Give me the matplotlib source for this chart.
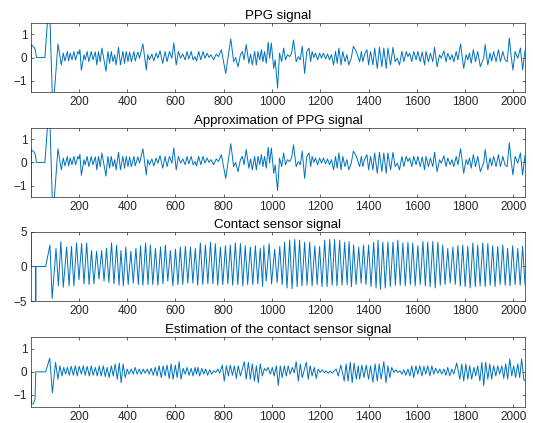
import matplotlib
matplotlib.use('Agg')
from matplotlib import pyplot as plt

# PPG signal, turning points (sample index, amplitude)
ppg_x = [1, 2, 14, 19, 24, 59, 77, 92, 113, 127,
         135, 142, 152, 157, 164, 171, 179, 186, 196, 200,
         204, 210, 221, 226, 234, 241, 251, 258, 268, 274,
         281, 288, 295, 312, 320, 327, 334, 341, 348, 354,
         364, 372, 382, 389, 396, 403, 410, 417, 428, 433,
         444, 451, 465, 479, 485, 492, 502, 510, 520, 527,
         536, 547, 557, 565, 575, 585, 593, 603, 612, 621,
         630, 640, 648, 655, 665, 673, 681, 687, 696, 705,
         714, 722, 731, 739, 747, 758, 769, 778, 790, 808,
         829, 841, 849, 859, 869, 877, 884, 893, 904, 911,
         918, 928, 935, 942, 949, 956, 962, 969, 976, 984,
         990, 997, 1007, 1013, 1023, 1031, 1040, 1048, 1056, 1064,
         1073, 1081, 1089, 1100, 1109, 1117, 1125, 1135, 1144, 1153,
         1160, 1166, 1173, 1180, 1189, 1197, 1205, 1213, 1222, 1230,
         1238, 1246, 1255, 1263, 1270, 1277, 1286, 1293, 1302, 1310,
         1318, 1328, 1337, 1349, 1363, 1370, 1376, 1383, 1393, 1400,
         1408, 1418, 1425, 1436, 1445, 1455, 1463, 1473, 1480, 1491,
         1501, 1510, 1519, 1528, 1538, 1546, 1556, 1563, 1570, 1579,
         1587, 1597, 1604, 1614, 1622, 1632, 1638, 1648, 1656, 1666,
         1673, 1684, 1694, 1701, 1712, 1721, 1728, 1738, 1745, 1753,
         1763, 1770, 1781, 1794, 1804, 1811, 1818, 1825, 1834, 1843,
         1852, 1863, 1877, 1883, 1894, 1903, 1910, 1918, 1928, 1938,
         1946, 1956, 1965, 1974, 1983, 1990, 1998, 2007, 2018, 2029,
         2038, 2048]
ppg_y = [-3.5, 0.56, 0.44, 0.34, 0.0, 0.0, 2.6, -2.4, 0.59, -0.32,
         0.19, -0.15, 0.26, -0.15, 0.19, -0.10, 0.26, -0.10, 0.26, 0.15,
         0.35, -0.55, 0.12, -0.10, 0.26, -0.18, 0.26, -0.10, 0.24, -0.32,
         0.26, -0.18, 0.41, -0.59, 0.26, -0.25, 0.26, -0.18, 0.12, -0.32,
         0.44, -0.32, 0.26, -0.25, 0.26, -0.18, 0.24, -0.18, 0.26, -0.15,
         0.24, -0.03, 0.59, -0.54, 0.12, -0.10, 0.15, -0.15, 0.19, -0.03,
         0.29, -0.25, 0.26, -0.18, 0.26, -0.03, 0.63, -0.32, 0.26, -0.03,
         0.15, -0.10, 0.26, -0.06, 0.26, -0.10, 0.04, -0.15, 0.26, -0.10,
         0.26, -0.03, 0.19, 0.0, 0.12, -0.10, 0.15, 0.04, 0.34, -0.69,
         0.81, -0.18, 0.0, -0.40, 0.12, 0.26, -0.10, 0.56, -0.25, 0.15,
         -0.32, 0.26, -0.32, 0.26, -0.10, 0.34, -0.18, 0.26, -0.25, 0.66,
         -0.03, 0.63, -0.47, -0.10, -1.32, 0.19, -0.18, 0.41, -0.10, 0.12,
         0.04, 0.19, 0.76, -0.18, 0.04, -0.10, 0.49, -0.69, 0.26, 0.41,
         -0.18, 0.26, 0.0, 0.19, -0.10, 0.19, -0.03, 0.19, -0.06, 0.15,
         -0.10, 0.12, -0.32, 0.26, -0.25, 0.41, -0.32, 0.26, -0.18, 0.12,
         -0.32, -0.03, 0.49, 0.26, -0.18, 0.26, -0.18, 0.12, 0.34, -0.32,
         0.26, -0.32, 0.41, -0.47, 0.44, -0.40, 0.41, -0.47, 0.41, -0.32,
         0.44, -0.18, -0.03, -0.32, 0.26, -0.18, 0.26, 0.04, 0.19, -0.18,
         0.26, -0.10, 0.26, -0.18, 0.24, -0.32, 0.26, -0.18, 0.19, -0.18,
         0.44, -0.40, 0.12, -0.03, 0.29, -0.18, 0.19, -0.10, 0.12, -0.18,
         0.26, -0.10, 0.59, -0.47, 0.12, -0.10, 0.19, -0.25, 0.34, -0.18,
         0.26, -0.40, 0.0, 0.56, -0.32, 0.19, -0.15, 0.26, -0.18, 0.34,
         -0.18, 0.26, -0.10, -0.18, 0.85, 0.12, -0.54, 0.26, -0.03, 0.41,
         -0.54, 0.30]

# the approximation reads the same as the PPG signal at this scale
approx_x = list(ppg_x)
approx_y = list(ppg_y)
approx_y[ppg_x.index(1023)] = -1.22

# contact sensor signal: start, then peaks and troughs
contact_start_x = [1, 2, 20, 21, 22, 62]
contact_start_y = [6.0, 0.0, 0.0, -6.0, 0.0, 0.0]
contact_peak_x = [80, 105, 125, 149, 169, 190, 211, 232, 252, 273,
                  294, 314, 335, 356, 374, 394, 415, 436, 455, 476,
                  496, 517, 538, 558, 579, 600, 620, 641, 662, 682,
                  703, 724, 745, 765, 786, 807, 827, 848, 869, 889,
                  910, 931, 951,
                  966, 988, 1011, 1032, 1052, 1073, 1094, 1114, 1135, 1156,
                  1177, 1197, 1218, 1239, 1259, 1280, 1301, 1319, 1338, 1359,
                  1379, 1400, 1421, 1439, 1459, 1480, 1501, 1521, 1542, 1563,
                  1583, 1604, 1625, 1645, 1666, 1687, 1707, 1728, 1749, 1770,
                  1790, 1811, 1832, 1852, 1873, 1894, 1914, 1935, 1956, 1976,
                  1997, 2018, 2038]
contact_peak_y = [3.1, 2.6, 3.6, 2.8, 2.9, 3.4, 3.3, 3.4, 2.3, 2.2,
                  2.3, 2.6, 3.4, 3.1, 2.3, 2.8, 2.2, 2.6, 3.0, 3.4,
                  3.1, 2.6, 2.8, 3.1, 2.3, 2.5, 2.8, 2.9, 2.8, 2.6,
                  3.4, 3.1, 3.5, 3.3, 2.8, 3.0, 3.1, 3.4, 3.3, 3.0,
                  2.8, 3.0, 2.6,
                  3.0, 3.3, 2.5, 2.9, 3.5, 3.8, 3.9, 3.8, 3.5, 3.5,
                  3.0, 2.9, 3.8, 3.9, 3.9, 3.8, 3.5, 3.6, 3.1, 2.8,
                  3.1, 3.1, 3.5, 3.8, 3.5, 3.5, 3.5, 3.8, 3.4, 3.5,
                  3.4, 3.0, 3.6, 3.5, 3.6, 3.5, 3.1, 2.6, 2.8, 3.0,
                  3.1, 2.9, 3.4, 3.1, 3.4, 3.3, 3.0, 2.9, 3.1, 2.6,
                  3.0, 2.6, 2.9]
contact_trough_x = [89, 115, 135, 159, 179, 200, 221, 242, 262, 283,
                    304, 324, 345, 366, 384, 404, 425, 446, 465, 486,
                    506, 527, 548, 568, 589, 610, 630, 651, 672, 692,
                    713, 734, 755, 775, 796, 817, 837, 858, 879, 899,
                    920, 941, 961,
                    976, 998, 1021, 1042, 1062, 1083, 1104, 1124, 1145, 1166,
                    1187, 1207, 1228, 1249, 1269, 1290, 1311, 1329, 1348, 1369,
                    1389, 1410, 1431, 1449, 1469, 1490, 1511, 1531, 1552, 1573,
                    1593, 1614, 1635, 1655, 1676, 1697, 1717, 1738, 1759, 1780,
                    1800, 1821, 1842, 1862, 1883, 1904, 1924, 1945, 1966, 1986,
                    2007, 2028, 2048]
contact_trough_y = [-4.6, -2.8, -3.0, -2.8, -2.8, -1.9, -2.5, -2.6, -2.5, -1.8,
                    -2.1, -2.3, -2.5, -2.7, -2.8, -2.6, -2.4, -2.6, -2.7, -2.6,
                    -2.6, -2.7, -2.5, -2.1, -2.8, -2.6, -2.6, -2.4, -2.4, -2.7,
                    -2.6, -2.5, -2.5, -2.7, -2.6, -2.5, -2.7, -2.6, -2.8, -2.6,
                    -2.6, -2.5, -2.9,
                    -2.1, -2.5, -2.3, -2.6, -3.1, -3.2, -2.9, -2.8, -2.7, -2.8,
                    -2.6, -2.9, -2.9, -2.7, -2.8, -2.7, -2.6, -2.9, -2.6, -2.4,
                    -2.6, -2.9, -3.1, -3.3, -3.1, -2.9, -2.7, -2.7, -2.8, -2.6,
                    -2.8, -2.6, -2.8, -2.9, -3.1, -2.7, -2.6, -2.4, -2.6, -2.8,
                    -2.9, -3.1, -2.9, -2.8, -2.9, -2.7, -2.9, -2.6, -2.7, -2.8,
                    -2.6, -2.7, -2.6]

# estimation of the contact sensor signal
est_x = [1, 3, 11, 18, 21, 62, 79, 90, 103, 113,
         121, 130, 137, 145, 152, 160, 168, 177, 185, 193,
         201, 210, 218, 226, 234, 243, 251, 259, 268, 276,
         284, 292, 301, 309, 317, 325, 334, 342, 350, 359,
         367, 375, 383, 392, 400, 408, 417, 425, 433, 441,
         450, 458, 466, 474, 483, 491, 499, 508, 516, 524,
         532, 541, 549, 557, 565, 574, 582, 590, 599, 607,
         615, 623, 632, 640, 648, 656, 665, 673, 681, 687,
         693, 700, 709, 717, 725, 733, 742, 750, 758, 767,
         775, 783, 794, 802, 811, 819, 827, 836, 844, 852,
         860, 869, 885, 893, 902, 910, 918, 927, 935, 943,
         951, 960, 968, 976, 984, 993, 1001, 1009, 1018, 1026,
         1034, 1042, 1051, 1059, 1067, 1075, 1084, 1092, 1100, 1109,
         1117, 1125, 1142, 1150, 1158, 1166, 1175, 1183, 1191, 1200,
         1208, 1216, 1224, 1233, 1241, 1249, 1257, 1266, 1274, 1285,
         1299, 1307, 1315, 1324, 1332, 1340, 1349, 1357, 1363, 1372,
         1381, 1390, 1400, 1408, 1418, 1427, 1436, 1444, 1452, 1463,
         1472, 1480, 1488, 1496, 1505, 1513, 1521, 1530, 1538, 1546,
         1554, 1563, 1571, 1579, 1587, 1596, 1604, 1612, 1621, 1629,
         1637, 1645, 1654, 1662, 1670, 1678, 1687, 1695, 1703, 1712,
         1720, 1728, 1736, 1745, 1753, 1765, 1778, 1786, 1794, 1803,
         1811, 1819, 1827, 1836, 1844, 1852, 1861, 1869, 1877, 1885,
         1894, 1902, 1910, 1918, 1927, 1935, 1943, 1952, 1960, 1968,
         1976, 1985, 1993, 2001, 2009, 2018, 2026, 2034, 2043, 2048]
est_y = [0.05, -1.4, -1.38, -1.2, 0.0, 0.0, 0.59, -0.91, 0.41, -0.32,
         0.26, -0.18, 0.19, -0.10, 0.19, -0.15, 0.24, -0.15, 0.26, -0.18,
         0.24, -0.10, 0.26, -0.15, 0.24, -0.18, 0.26, -0.15, 0.19, -0.18,
         0.26, -0.18, 0.26, -0.21, 0.19, -0.25, 0.26, -0.18, 0.34, -0.32,
         0.38, -0.47, 0.34, -0.25, 0.12, -0.10, 0.12, -0.10, 0.19, -0.10,
         0.12, -0.10, 0.12, -0.06, 0.12, -0.10, 0.15, -0.15, 0.19, -0.18,
         0.26, -0.25, 0.26, -0.18, 0.29, -0.29, 0.34, -0.32, 0.29, -0.25,
         0.44, -0.32, 0.15, -0.10, 0.19, -0.15, 0.15, -0.18, 0.19, -0.10,
         0.19, -0.18, 0.15, -0.10, 0.12, -0.15, 0.09, -0.10, 0.04, -0.03,
         0.12, -0.06, 0.29, -0.40, 0.26, -0.18, 0.29, -0.15, 0.26, -0.29,
         0.26, -0.18, 0.44, -0.32, 0.41, -0.32, 0.34, -0.40, 0.26, -0.47,
         0.34, -0.18, 0.15, 0.04, 0.19, -0.10, 0.19, -0.18, 0.26, -0.59,
         0.26, -0.25, 0.26, -0.18, 0.26, -0.10, 0.19, -0.05, 0.44, -0.40,
         0.34, -0.25, 0.41, -0.32, 0.26, -0.18, 0.19, -0.29, 0.12, -0.03,
         0.09, -0.03, 0.04, -0.06, 0.04, -0.06, 0.04, 0.12, -0.18, 0.29,
         -0.40, 0.34, -0.40, 0.41, -0.47, 0.38, -0.32, 0.26, -0.32, 0.29,
         -0.25, 0.29, -0.32, 0.26, -0.44, 0.34, -0.40, 0.34, -0.32, 0.44,
         -0.47, 0.26, -0.25, 0.19, -0.03, 0.09, -0.03, 0.04, -0.10, 0.09,
         -0.15, 0.12, -0.18, 0.26, -0.25, 0.26, -0.10, 0.26, -0.18, 0.24,
         -0.10, 0.26, -0.18, 0.26, -0.10, 0.15, -0.06, 0.12, -0.10, 0.12,
         -0.15, 0.19, -0.18, 0.12, -0.10, 0.38, -0.32, 0.34, -0.40, 0.34,
         -0.32, 0.26, -0.32, 0.19, -0.18, 0.26, -0.40, 0.41, -0.59, 0.41,
         -0.32, 0.34, -0.32, 0.26, -0.18, 0.26, -0.10, 0.26, -0.29, 0.34,
         -0.32, 0.56, -0.18, 0.26, -0.25, 0.34, -0.25, 0.56, -0.32, -0.40]

titles = ["PPG signal", "Approximation of PPG signal",
          "Contact sensor signal", "Estimation of the contact sensor signal"]

# merge peaks and troughs of the contact signal in sample order
pts = sorted(zip(contact_peak_x + contact_trough_x, contact_peak_y + contact_trough_y))
contact_x = contact_start_x + [p[0] for p in pts]
contact_y = contact_start_y + [p[1] for p in pts]

plt.rcParams['font.family'] = ['Liberation Sans', 'DejaVu Sans']
line_c = '#0072BD'
axis_c = '#262626'

fig = plt.figure(figsize=(5.33, 4.23), dpi=100)
series = [(ppg_x, ppg_y, 1.5, [-1, 0, 1]),
          (approx_x, approx_y, 1.5, [-1, 0, 1]),
          (contact_x, contact_y, 5, [-5, 0, 5]),
          (est_x, est_y, 1.5, [-1, 0, 1])]
bottoms = [0.782, 0.534, 0.288, 0.039]

for (xs, ys, lim, yt), title, b in zip(series, titles, bottoms):
    ax = fig.add_axes([0.058, b, 0.927, 0.164])
    ax.plot(xs, ys, color=line_c, lw=0.7)
    ax.set_xlim(1, 2048)
    ax.set_ylim(-lim, lim)
    ax.set_xticks(range(200, 2001, 200))
    ax.set_yticks(yt)
    ax.tick_params(direction='in', top=True, right=True, length=2.5, width=0.5,
                   labelsize=8.5, colors=axis_c)
    ax.tick_params(axis='x', pad=3)
    ax.tick_params(axis='y', pad=2.5)
    for s in ax.spines.values():
        s.set_color(axis_c)
        s.set_linewidth(0.5)
    ax.set_title(title, fontsize=9.5, pad=3)

fig.savefig('out.png', dpi=100)
